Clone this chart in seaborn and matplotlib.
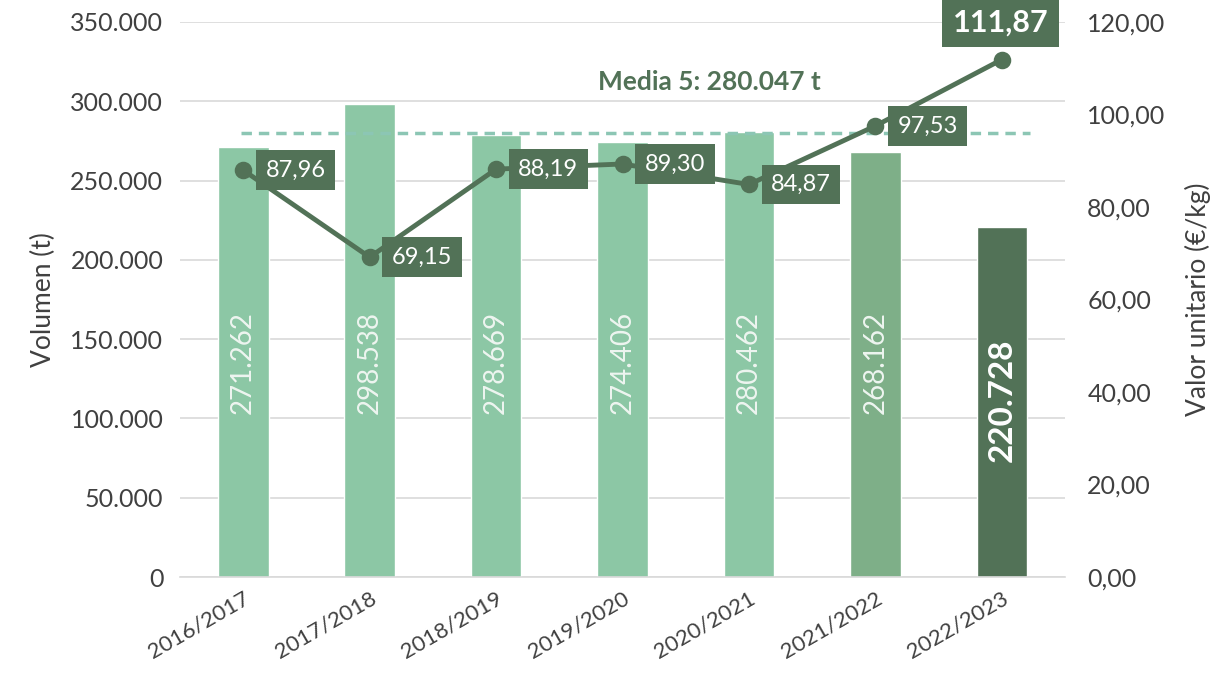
import numpy as np
import pandas as pd
import seaborn as sns
import matplotlib.pyplot as plt
from matplotlib.ticker import FuncFormatter, MultipleLocator

# Data
seasons = ['2016/2017', '2017/2018', '2018/2019', '2019/2020', '2020/2021', '2021/2022', '2022/2023']
volumen = [271262, 298538, 278669, 274406, 280462, 268162, 220728]
valor_unitario = [87.96, 69.15, 88.19, 89.30, 84.87, 97.53, 111.87]
media5 = 280047
bar_colors = ['#8CC7A5', '#8CC7A5', '#8CC7A5', '#8CC7A5', '#8CC7A5', '#7EAF88', '#527257']

dark = '#527257'
grid_c = '#D9D9D9'
txt_c = '#404040'

sns.set_style('white')
plt.rcParams['font.family'] = ['Lato', 'DejaVu Sans']

df = pd.DataFrame({'Temporada': seasons, 'Volumen': volumen, 'Valor': valor_unitario})

fig = plt.figure(figsize=(12.13, 6.79), dpi=100)
ax = fig.add_axes([0.1484, 0.1502, 0.7296, 0.8174])

sns.barplot(data=df, x='Temporada', y='Volumen', hue='Temporada', palette=bar_colors,
            legend=False, width=0.4, saturation=1, ax=ax)

ax.set_ylim(0, 350000)
ax.yaxis.set_major_locator(MultipleLocator(50000))
ax.yaxis.set_major_formatter(FuncFormatter(lambda v, p: f'{int(v):,}'.replace(',', '.')))
ax.grid(axis='y', color=grid_c, linewidth=1.2)
ax.set_axisbelow(True)
for s in ['top', 'right', 'left']:
    ax.spines[s].set_visible(False)
ax.spines['bottom'].set_color(grid_c)
ax.spines['bottom'].set_linewidth(1.2)
ax.set_xlim(-0.5, len(seasons) - 0.5)
ax.set_xticks(np.arange(-0.5, len(seasons)), minor=True)
ax.tick_params(axis='x', which='minor', length=6, color=grid_c, width=1.2)
ax.tick_params(axis='x', which='major', length=0, labelsize=16, labelcolor=txt_c, pad=8)
ax.tick_params(axis='y', length=0, labelsize=18, labelcolor=txt_c, pad=12)
plt.setp(ax.get_xticklabels(), rotation=30, ha='right', rotation_mode='anchor')
ax.set_xlabel('')
ax.set_ylabel('Volumen (t)', fontsize=19, color=txt_c, labelpad=10)

# bar value labels
for i, v in enumerate(volumen):
    last = i == len(volumen) - 1
    ax.text(i, 111600 if last else 135000, f'{v:,}'.replace(',', '.'), rotation=90, ha='center', va='center',
            color='white' if last else '#EEF5F0', fontsize=24 if last else 20,
            fontweight='bold' if last else 'normal')

# mean line
ax.plot([-0.02, 6.22], [media5, media5], color='#8CC6B4', linestyle=(0, (3, 2)), linewidth=2.5, zorder=3)
ax.text(3.69, 312000, 'Media 5: ' + f'{media5:,}'.replace(',', '.') + ' t', ha='center', va='center',
        color=dark, fontsize=19, fontweight='bold')

# unit value line on secondary axis
ax2 = ax.twinx()
sns.pointplot(data=df, x='Temporada', y='Valor', color=dark, markers='o', markersize=10,
              linewidth=3.5, ax=ax2)
ax2.set_xlim(-0.5, len(seasons) - 0.5)
ax2.set_ylim(0, 120)
ax2.yaxis.set_major_locator(MultipleLocator(20))
ax2.yaxis.set_major_formatter(FuncFormatter(lambda v, p: f'{v:.2f}'.replace('.', ',')))
ax2.tick_params(axis='y', length=0, labelsize=18, labelcolor=txt_c, pad=16)
for s in ['top', 'right', 'left', 'bottom']:
    ax2.spines[s].set_visible(False)
ax2.set_xlabel('')
ax2.set_ylabel('Valor unitario (€/kg)', fontsize=19, color=txt_c, labelpad=14)

for i, v in enumerate(valor_unitario):
    lab = f'{v:.2f}'.replace('.', ',')
    if i == len(valor_unitario) - 1:
        ax2.annotate(lab, (i, v), xytext=(-1, 27), textcoords='offset points', ha='center', va='center',
                     color='white', fontsize=22, fontweight='bold',
                     bbox=dict(boxstyle='square,pad=0.35', fc=dark, ec='none'))
    else:
        ax2.annotate(lab, (i, v), xytext=(16, 0), textcoords='offset points', ha='left', va='center',
                     color='white', fontsize=17,
                     bbox=dict(boxstyle='square,pad=0.4', fc=dark, ec='none'))

fig.savefig('out.png', dpi=100)
